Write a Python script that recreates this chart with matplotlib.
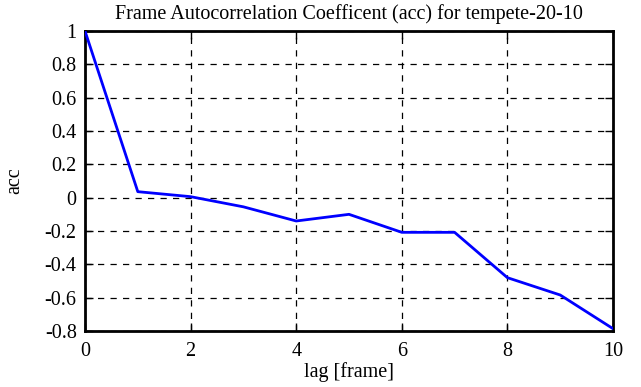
import matplotlib
matplotlib.use("Agg")
import matplotlib.pyplot as plt

lags = [0, 1, 2, 3, 4, 5, 6, 7, 8, 9, 10]
acc = [1.0, 0.036, 0.006, -0.055, -0.14, -0.10, -0.208, -0.208, -0.48, -0.584, -0.786]
xticks = [0, 2, 4, 6, 8, 10]
yticks = [-0.8, -0.6, -0.4, -0.2, 0, 0.2, 0.4, 0.6, 0.8, 1]
ytick_labels = ["-0.8", "-0.6", "-0.4", "-0.2", "0", "0.2", "0.4", "0.6", "0.8", "1"]

plt.rcParams['font.family'] = ['Liberation Serif', 'DejaVu Serif']
fig = plt.figure(figsize=(6.41, 3.87), dpi=100)
ax = fig.add_axes([85/641, 1-331/387, (613-85)/641, (331-31)/387])

ax.plot(lags, acc, color='#0000ff', lw=2, zorder=3)
ax.set_xlim(0, 10)
ax.set_ylim(-0.8, 1)
ax.set_xticks(xticks)
ax.set_xticklabels([str(t) for t in xticks])
ax.set_yticks(yticks)
ax.set_yticklabels(ytick_labels)
ax.grid(True, color='black', linestyle=(0, (5, 5)), linewidth=0.9)
ax.tick_params(direction='in', length=6, width=1, top=True, right=True,
               labelsize=14.5)
ax.tick_params(axis='x', pad=8)
ax.tick_params(axis='y', pad=6)
for s in ax.spines.values():
    s.set_linewidth(2)
ax.set_title("Frame Autocorrelation Coefficent (acc) for tempete-20-10", fontsize=14.5, pad=9)
ax.set_xlabel("lag [frame]", fontsize=14.5, labelpad=1)
ax.set_ylabel("acc", fontsize=14.5, labelpad=15)
fig.savefig("out.png", dpi=100)
